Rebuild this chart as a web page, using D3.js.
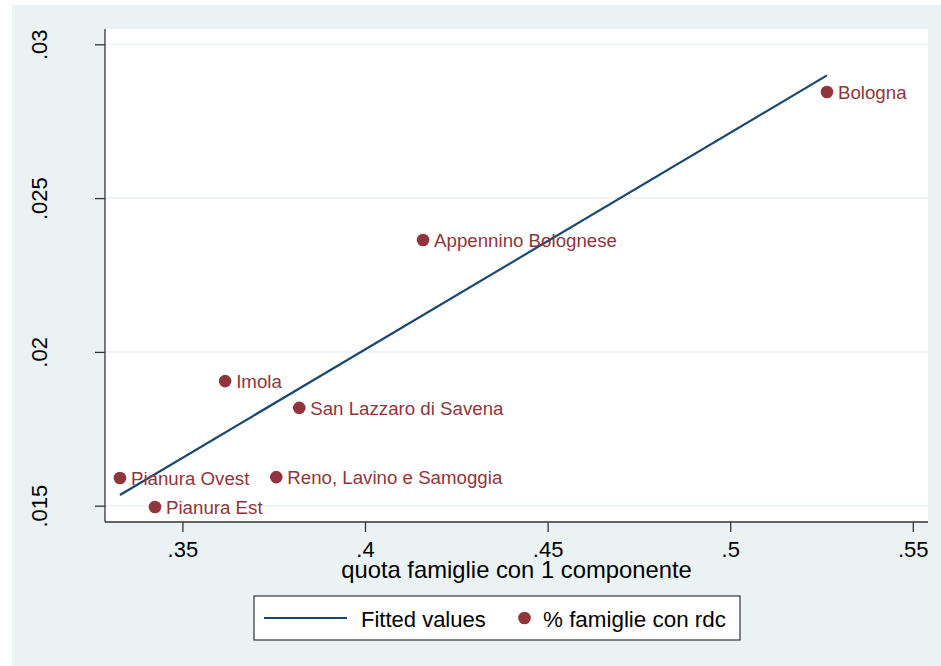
<!DOCTYPE html>
<html>
<head>
<meta charset="utf-8">
<script src="https://cdn.jsdelivr.net/npm/d3@7"></script>
<style>
  html, body { margin: 0; padding: 0; background: #ffffff; }
  svg { display: block; font-family: "Liberation Sans", Arial, sans-serif; }
</style>
</head>
<body>
<svg id="chart" width="941" height="666"></svg>
<script>
// ---- data ----
const regions = ["Bologna", "Appennino Bolognese", "Imola", "San Lazzaro di Savena",
                 "Reno, Lavino e Samoggia", "Pianura Ovest", "Pianura Est"];
const quota1comp = [0.5265, 0.4159, 0.3617, 0.3820, 0.3757, 0.3329, 0.3425];
const pctRdc = [0.02845, 0.02364, 0.01905, 0.01818, 0.01593, 0.01590, 0.01496];
const fittedX = [0.3329, 0.5265];
const fittedY = [0.01535, 0.02899];
const xTicks = [0.35, 0.40, 0.45, 0.50, 0.55];
const xTickLabels = [".35", ".4", ".45", ".5", ".55"];
const yTicks = [0.015, 0.020, 0.025, 0.030];
const yTickLabels = [".015", ".02", ".025", ".03"];
const xTitle = "quota famiglie con 1 componente";
const legendLabels = ["Fitted values", "% famiglie con rdc"];

// ---- styles ----
const navy = "#1A476F", maroon = "#90353B", bg = "#EAF2F3";

const svg = d3.select("#chart");
svg.append("rect").attr("x", 12).attr("y", 5).attr("width", 929).attr("height", 661).attr("fill", bg);

const plot = { left: 105, right: 928, top: 29, bottom: 522 };
svg.append("rect").attr("x", plot.left).attr("y", plot.top)
  .attr("width", plot.right - plot.left).attr("height", plot.bottom - plot.top).attr("fill", "#ffffff");

const x = d3.scaleLinear().domain([0.35, 0.55]).range([182.4, 912.8]);
const y = d3.scaleLinear().domain([0.015, 0.03]).range([505.7, 44.3]);

// gridlines
svg.append("g").selectAll("line").data(yTicks).join("line")
  .attr("x1", plot.left).attr("x2", plot.right)
  .attr("y1", d => y(d)).attr("y2", d => y(d))
  .attr("stroke", bg).attr("stroke-width", 1.5);

// x axis
const xAxis = d3.axisBottom(x).tickValues(xTicks).tickSizeInner(10).tickSizeOuter(0)
  .tickFormat((d, i) => xTickLabels[i]);
const gx = svg.append("g").attr("transform", `translate(0,${plot.bottom})`).call(xAxis);
gx.select(".domain").remove();
gx.append("line").attr("x1", plot.left).attr("x2", plot.right).attr("y1", 0).attr("y2", 0)
  .attr("stroke", "#333").attr("stroke-width", 1.3);
gx.selectAll(".tick line").attr("stroke", "#333").attr("stroke-width", 1.3);
gx.selectAll(".tick text").attr("y", 34.5).attr("dy", 0).attr("fill", "#000")
  .style("font-size", "22px").style("font-family", "'Liberation Sans', Arial, sans-serif");

// y axis
const yAxis = d3.axisLeft(y).tickValues(yTicks).tickSizeInner(10).tickSizeOuter(0)
  .tickFormat((d, i) => yTickLabels[i]);
const gy = svg.append("g").attr("transform", `translate(${plot.left},0)`).call(yAxis);
gy.select(".domain").remove();
gy.append("line").attr("x1", 0).attr("x2", 0).attr("y1", plot.top).attr("y2", plot.bottom)
  .attr("stroke", "#333").attr("stroke-width", 1.3);
gy.selectAll(".tick line").attr("stroke", "#333").attr("stroke-width", 1.3);
gy.selectAll(".tick text")
  .attr("x", 0).attr("dy", 0).attr("text-anchor", "middle")
  .attr("transform", "translate(-58,0) rotate(-90)")
  .attr("fill", "#000")
  .style("font-size", "22px").style("font-family", "'Liberation Sans', Arial, sans-serif");

// axis title
svg.append("text").attr("x", (plot.left + plot.right) / 2).attr("y", 578)
  .attr("text-anchor", "middle").attr("fill", "#000").style("font-size", "23.8px")
  .text(xTitle);

// fitted line
const line = d3.line().x(d => x(d[0])).y(d => y(d[1]));
svg.append("path").datum(fittedX.map((v, i) => [v, fittedY[i]]))
  .attr("d", line).attr("fill", "none").attr("stroke", navy).attr("stroke-width", 2.2);

// points
const pts = regions.map((r, i) => ({ name: r, x: quota1comp[i], y: pctRdc[i] }));
svg.append("g").selectAll("circle").data(pts).join("circle")
  .attr("cx", d => x(d.x)).attr("cy", d => y(d.y)).attr("r", 6.3).attr("fill", maroon);
svg.append("g").selectAll("text").data(pts).join("text")
  .attr("x", d => x(d.x) + 11).attr("y", d => y(d.y)).attr("dy", "0.36em")
  .attr("fill", maroon).style("font-size", "18.7px").text(d => d.name);

// legend
const lg = svg.append("g");
lg.append("rect").attr("x", 254).attr("y", 596).attr("width", 486).attr("height", 44)
  .attr("fill", "#fff").attr("stroke", "#333").attr("stroke-width", 1.2);
lg.append("line").attr("x1", 264).attr("x2", 347).attr("y1", 618).attr("y2", 618)
  .attr("stroke", navy).attr("stroke-width", 2.2);
lg.append("text").attr("x", 361).attr("y", 626.5).attr("fill", "#000").style("font-size", "22px")
  .text(legendLabels[0]);
lg.append("circle").attr("cx", 524.5).attr("cy", 618).attr("r", 6.3).attr("fill", maroon);
lg.append("text").attr("x", 543).attr("y", 626.5).attr("fill", "#000").style("font-size", "22.4px")
  .text(legendLabels[1]);
</script>
</body>
</html>
